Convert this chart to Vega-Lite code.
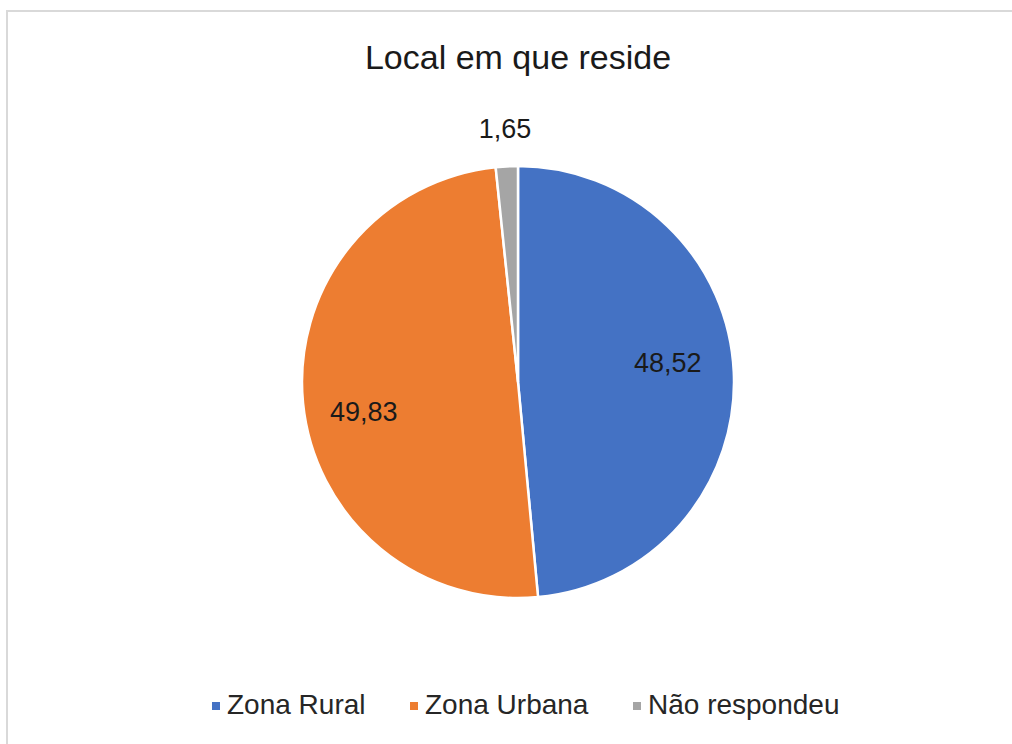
{
  "$schema": "https://vega.github.io/schema/vega-lite/v6.json",
  "width": 1022,
  "height": 742,
  "autosize": {"type": "none"},
  "padding": {"left": 7, "top": 11, "right": 0, "bottom": 0},
  "background": "white",
  "view": {"stroke": "#d9d9d9", "strokeWidth": 2, "fill": "white"},
  "config": {
    "view": {"stroke": "#d9d9d9", "strokeWidth": 2},
    "font": "Liberation Sans"
  },
  "title": {
    "text": "Local em que reside",
    "anchor": "middle",
    "frame": "group",
    "offset": -65,
    "fontSize": 34,
    "font": "Liberation Sans",
    "fontWeight": "normal",
    "color": "#1a1a1a"
  },
  "data": {
    "values": [
      {"local": "Zona Rural", "pct": 48.52, "rotulo": "48,52", "ordem": 1},
      {"local": "Zona Urbana", "pct": 49.83, "rotulo": "49,83", "ordem": 2},
      {"local": "Não respondeu", "pct": 1.65, "rotulo": "1,65", "ordem": 3}
    ]
  },
  "encoding": {
    "theta": {"field": "pct", "type": "quantitative", "stack": true},
    "order": {"field": "ordem", "type": "quantitative"}
  },
  "layer": [
    {
      "mark": {"type": "arc", "outerRadius": 216, "stroke": "white", "strokeWidth": 2.5},
      "encoding": {
        "color": {
          "field": "local",
          "type": "nominal",
          "scale": {
            "domain": ["Zona Rural", "Zona Urbana", "Não respondeu"],
            "range": ["#4472C4", "#ED7D31", "#A5A5A5"]
          },
          "legend": {
            "title": null,
            "orient": "none",
            "legendX": 195,
            "legendY": 681,
            "direction": "horizontal",
            "symbolType": "square",
            "symbolSize": 64,
            "symbolStrokeWidth": 0,
            "labelFontSize": 28,
            "labelFont": "Liberation Sans",
            "labelColor": "#262626",
            "labelOffset": -3,
            "labelLimit": 400,
            "columnPadding": 34,
            "padding": 0
          }
        }
      }
    },
    {
      "mark": {"type": "text", "radius": 150, "dy": -11, "fontSize": 27, "font": "Liberation Sans", "color": "#1a1a1a"},
      "encoding": {
        "text": {"condition": {"test": "datum.ordem === 1", "field": "rotulo"}, "value": ""}
      }
    },
    {
      "mark": {"type": "text", "radius": 155, "dy": 16, "fontSize": 27, "font": "Liberation Sans", "color": "#1a1a1a"},
      "encoding": {
        "text": {"condition": {"test": "datum.ordem === 2", "field": "rotulo"}, "value": ""}
      }
    },
    {
      "mark": {"type": "text", "radius": 250, "dy": -2, "fontSize": 27, "font": "Liberation Sans", "color": "#1a1a1a"},
      "encoding": {
        "text": {"condition": {"test": "datum.ordem === 3", "field": "rotulo"}, "value": ""}
      }
    }
  ]
}
